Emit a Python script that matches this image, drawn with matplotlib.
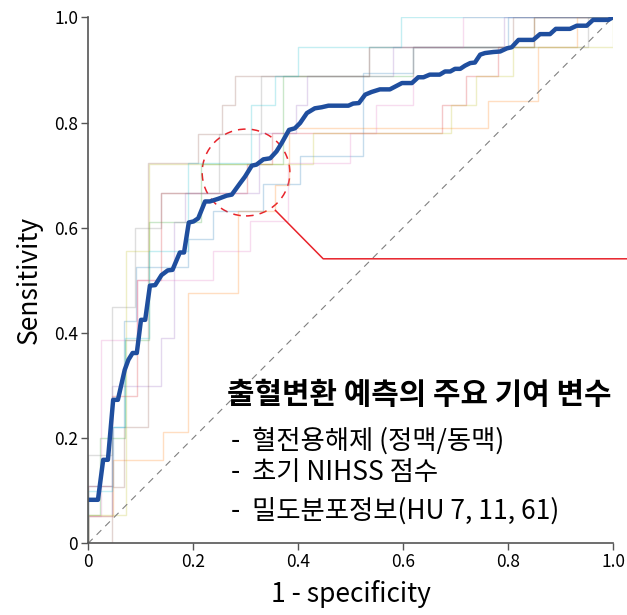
import matplotlib
matplotlib.use("Agg")
import matplotlib.pyplot as plt
from matplotlib.patches import Ellipse

plt.rcParams['font.family'] = ['Noto Sans CJK KR', 'DejaVu Sans']

# Mean ROC curve (bold)
mean_fpr = [0, 0.019, 0.029, 0.038, 0.048, 0.057, 0.070, 0.077, 0.085, 0.093, 0.101, 0.109,
            0.118, 0.128, 0.140, 0.152, 0.161, 0.175, 0.183, 0.192, 0.201, 0.210, 0.223, 0.232,
            0.248, 0.264, 0.274, 0.290, 0.299, 0.312, 0.321, 0.334, 0.347, 0.359, 0.369, 0.383,
            0.394, 0.404, 0.417, 0.432, 0.445, 0.458, 0.496, 0.505, 0.516, 0.528, 0.540, 0.556,
            0.575, 0.598, 0.617, 0.629, 0.639, 0.651, 0.670, 0.680, 0.690, 0.699, 0.709, 0.718,
            0.728, 0.737, 0.747, 0.756, 0.772, 0.785, 0.798, 0.807, 0.820, 0.848, 0.861, 0.880,
            0.891, 0.918, 0.931, 0.950, 0.962, 0.991, 1.0]
mean_tpr = [0.083, 0.083, 0.159, 0.159, 0.273, 0.273, 0.330, 0.349, 0.362, 0.362, 0.425, 0.425,
            0.490, 0.491, 0.510, 0.519, 0.520, 0.553, 0.553, 0.610, 0.612, 0.618, 0.650, 0.650,
            0.655, 0.661, 0.663, 0.685, 0.697, 0.718, 0.720, 0.730, 0.732, 0.745, 0.761, 0.786,
            0.789, 0.799, 0.818, 0.827, 0.829, 0.832, 0.832, 0.836, 0.837, 0.853, 0.858, 0.863,
            0.863, 0.875, 0.875, 0.886, 0.886, 0.891, 0.891, 0.897, 0.897, 0.902, 0.902, 0.908,
            0.913, 0.914, 0.929, 0.932, 0.934, 0.935, 0.941, 0.943, 0.957, 0.957, 0.968, 0.968,
            0.978, 0.978, 0.984, 0.984, 0.995, 0.995, 1.0]

# Individual fold ROC curves (faint)
fold_fpr = [
    [0, 0, 0.048, 0.048, 0.069, 0.069, 0.091, 0.091, 0.19, 0.19, 0.238, 0.238, 0.333, 0.333, 0.404, 0.404, 0.524, 0.524, 0.62, 0.62, 0.8, 0.8, 1],
    [0, 0, 0.048, 0.048, 0.143, 0.143, 0.19, 0.19, 0.286, 0.286, 0.357, 0.357, 0.383, 0.383, 0.762, 0.762, 0.857, 0.857, 0.931, 0.931, 1],
    [0, 0, 0.023, 0.023, 0.07, 0.07, 0.117, 0.117, 0.215, 0.215, 0.372, 0.372, 0.62, 0.62, 0.85, 0.85, 1],
    [0, 0, 0.046, 0.046, 0.093, 0.093, 0.14, 0.14, 0.302, 0.302, 0.35, 0.35, 0.674, 0.674, 0.72, 0.72, 0.78, 0.78, 0.85, 0.85, 1],
    [0, 0, 0.046, 0.046, 0.14, 0.14, 0.164, 0.164, 0.185, 0.185, 0.326, 0.326, 0.396, 0.396, 0.418, 0.418, 0.581, 0.581, 0.792, 0.792, 1],
    [0, 0.046, 0.046, 0.069, 0.069, 0.114, 0.114, 0.209, 0.209, 0.256, 0.256, 0.280, 0.280, 0.536, 0.536, 0.81, 0.81, 1],
    [0, 0, 0.024, 0.024, 0.093, 0.093, 0.238, 0.238, 0.309, 0.309, 0.381, 0.381, 0.5, 0.5, 0.548, 0.548, 0.62, 0.62, 0.714, 0.714, 1],
    [0, 0, 0.046, 0.046, 0.09, 0.09, 0.14, 0.14, 0.25, 0.25, 0.33, 0.33, 0.535, 0.535, 0.952, 0.952, 1],
    [0, 0, 0.072, 0.072, 0.117, 0.117, 0.429, 0.429, 0.691, 0.691, 0.739, 0.739, 0.81, 0.81, 1, 1],
    [0, 0, 0.046, 0.046, 0.07, 0.07, 0.117, 0.117, 0.19, 0.19, 0.31, 0.31, 0.356, 0.356, 0.4, 0.4, 0.596, 0.596, 1],
]
fold_tpr = [
    [0, 0.11, 0.11, 0.222, 0.222, 0.422, 0.422, 0.526, 0.526, 0.579, 0.579, 0.632, 0.632, 0.683, 0.683, 0.737, 0.737, 0.894, 0.894, 0.944, 0.944, 1, 1],
    [0, 0.053, 0.053, 0.159, 0.159, 0.211, 0.211, 0.476, 0.476, 0.631, 0.631, 0.682, 0.682, 0.789, 0.789, 0.841, 0.841, 0.944, 0.944, 1, 1],
    [0, 0.054, 0.054, 0.2, 0.2, 0.387, 0.387, 0.61, 0.61, 0.722, 0.722, 0.889, 0.889, 0.944, 0.944, 1, 1],
    [0, 0.11, 0.11, 0.28, 0.28, 0.501, 0.501, 0.667, 0.667, 0.722, 0.722, 0.78, 0.78, 0.834, 0.834, 0.889, 0.889, 0.944, 0.944, 1, 1],
    [0, 0.053, 0.053, 0.3, 0.3, 0.39, 0.39, 0.61, 0.61, 0.667, 0.667, 0.78, 0.78, 0.834, 0.834, 0.889, 0.889, 0.944, 0.944, 1, 1],
    [0, 0, 0.107, 0.107, 0.222, 0.222, 0.723, 0.723, 0.778, 0.778, 0.833, 0.833, 0.889, 0.889, 0.944, 0.944, 1, 1],
    [0, 0.053, 0.053, 0.387, 0.387, 0.5, 0.5, 0.556, 0.556, 0.612, 0.612, 0.723, 0.723, 0.78, 0.78, 0.834, 0.834, 0.944, 0.944, 1, 1],
    [0, 0.168, 0.168, 0.45, 0.45, 0.6, 0.6, 0.667, 0.667, 0.778, 0.778, 0.889, 0.889, 0.944, 0.944, 1, 1],
    [0, 0.054, 0.054, 0.555, 0.555, 0.722, 0.722, 0.78, 0.78, 0.834, 0.834, 0.889, 0.889, 0.944, 0.944, 1],
    [0, 0.1, 0.1, 0.222, 0.222, 0.39, 0.39, 0.555, 0.555, 0.723, 0.723, 0.834, 0.834, 0.889, 0.889, 0.944, 0.944, 1, 1],
]
fold_colors = ['tab:blue', 'tab:orange', 'tab:green', 'tab:red', 'tab:purple',
               'tab:brown', 'tab:pink', 'tab:gray', 'tab:olive', 'tab:cyan']

ticks = [0, 0.2, 0.4, 0.6, 0.8, 1.0]
tick_labels = ['0', '0.2', '0.4', '0.6', '0.8', '1.0']

title_text = '출혈변환 예측의 주요 기여 변수'
items = ['-  혈전용해제 (정맥/동맥)', '-  초기 NIHSS 점수', '-  밀도분포정보(HU 7, 11, 61)']

fig = plt.figure(figsize=(6.27, 6.15), dpi=100)
ax = fig.add_axes([0.1403, 0.1163, 0.8374, 0.8556])

for fx, fy, c in zip(fold_fpr, fold_tpr, fold_colors):
    ax.plot(fx, fy, color=c, lw=1.0, alpha=0.25)

ax.plot([0, 1], [0, 1], color='#808080', lw=0.8, linestyle=(0, (6, 5)))
ax.plot(mean_fpr, mean_tpr, color='#1F4E9E', lw=3.2, solid_joinstyle='round')

# highlight circle and pointer
ax.add_patch(Ellipse((0.301, 0.705), 0.167, 0.165, fill=False, edgecolor='#E8232B',
                     lw=1.1, linestyle=(0, (5, 4))))
ax.plot([0.357, 0.448, 1.03], [0.633, 0.541, 0.541], color='#E8232B', lw=1.1, clip_on=False)

ax.text(0.265, 0.282, title_text, fontsize=21.5, fontweight='bold', va='center', ha='left')
for yv, s in zip([0.195, 0.134, 0.062], items):
    ax.text(0.272, yv, s, fontsize=19, va='center', ha='left')

ax.set_xlim(0, 1)
ax.set_ylim(0, 1)
ax.set_xticks(ticks)
ax.set_xticklabels(tick_labels)
ax.set_yticks(ticks)
ax.set_yticklabels(tick_labels)
ax.tick_params(labelsize=12.5, length=5, width=1, color='#555555', pad=2)
for side in ['top', 'right']:
    ax.spines[side].set_visible(False)
for side in ['left', 'bottom']:
    ax.spines[side].set_color('#555555')
    ax.spines[side].set_linewidth(1.2)
ax.set_xlabel('1 - specificity', fontsize=19, labelpad=6)
ax.set_ylabel('Sensitivity', fontsize=19, labelpad=8)

fig.savefig('out.png', dpi=100)
